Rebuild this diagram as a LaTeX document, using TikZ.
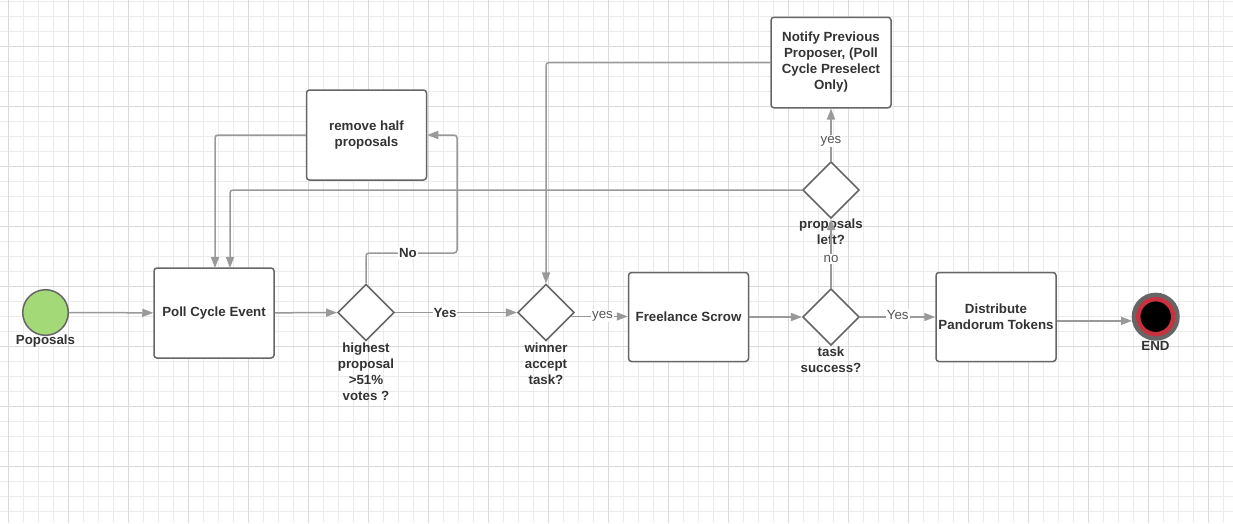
\documentclass[tikz,border=0pt]{standalone}
\usepackage{fontspec}
\setmainfont{Liberation Sans}
\usetikzlibrary{shapes.geometric,arrows.meta,calc}
\definecolor{gridminor}{HTML}{EBEBEB}
\definecolor{gridmajor}{HTML}{DADADA}
\definecolor{edge}{HTML}{666666}
\definecolor{conncol}{HTML}{999999}
\definecolor{txt}{HTML}{333333}
\definecolor{lbltxt}{HTML}{555555}
\definecolor{startgreen}{HTML}{A3D977}
\definecolor{endred}{HTML}{C7323F}
\newcommand\myfs{\fontsize{13.3}{16}\selectfont}
\begin{document}
\begin{tikzpicture}[x=1pt,y=-1pt,
  box/.style={draw=edge, line width=1.5pt, rounded corners=3pt, fill=white,
    minimum width=120pt, minimum height=90pt, inner sep=2pt, align=center,
    font=\myfs\bfseries, text=txt},
  dec/.style={diamond, draw=edge, line width=1.5pt, fill=white,
    minimum width=56.6pt, minimum height=56.6pt, inner sep=0pt},
  conn/.style={draw=conncol, line width=1.5pt, rounded corners=3pt,
    -{Triangle[length=11pt,width=8pt]}},
  lbl/.style={font=\myfs\bfseries, text=txt, align=center, inner sep=0pt},
  elbl/.style={fill=white, inner sep=1pt, font=\myfs, text=lbltxt},
  belbl/.style={fill=white, inner sep=1pt, font=\myfs\bfseries, text=txt}]
\useasboundingbox (0,0) rectangle (1233,523);
\fill[white] (0,0) rectangle (1233,523);
\foreach \x in {8,23,...,1232} \draw[gridminor, line width=1pt] (\x,0) -- (\x,523);
\foreach \y in {1,16,...,522} \draw[gridminor, line width=1pt] (0,\y) -- (1233,\y);
\foreach \x in {8,68,...,1232} \draw[gridmajor, line width=1pt] (\x,0) -- (\x,523);
\foreach \y in {46,106,...,522} \draw[gridmajor, line width=1pt] (0,\y) -- (1233,\y);

% nodes
\node[circle, minimum size=45.6pt, inner sep=0pt, fill=startgreen, draw=edge, line width=1.5pt] (start) at (45.5,312.5) {};
\node[lbl] (startlbl) at (45.5,341) {Poposals};
\node[box] (poll) at (214,313) {Poll Cycle Event};
\node[box] (rem) at (366.5,135) {remove half\\proposals};
\node[box, minimum height=90.5pt] (notify) at (831,62.5) {Notify Previous\\Proposer, (Poll\\Cycle Preselect\\Only)};
\node[box, minimum height=89pt] (free) at (688.5,317) {Freelance Scrow};
\node[box, minimum height=89pt] (dist) at (996,317) {Distribute\\Pandorum Tokens};

\node[dec] (d1) at (366,312.5) {};
\node[dec] (d2) at (546,312.5) {};
\node[dec] (d3) at (831,317) {};
\node[dec] (d4) at (831,190) {};

\node[lbl] (d1lbl) at (366,371.5) {highest\\proposal\\>51\%\\votes ?};
\node[lbl] (d2lbl) at (546,363.5) {winner\\accept\\task?};
\node[lbl] (d3lbl) at (831,360) {task\\success?};
\node[lbl] (d4lbl) at (831,232) {proposals\\left?};

\node[circle, minimum size=35pt, inner sep=0pt, fill=black, draw=endred, line width=4.4pt,
  preaction={draw=edge, line width=13pt}, outer sep=6.5pt] (endc) at (1155.7,316.7) {};
\node[lbl] (endlbl) at (1155.5,346) {END};

\coordinate (nocorner) at (457,253);
\coordinate (pin1) at (215,268);
\coordinate (pin2) at (230,268);

% connectors
\draw[conn] (start) -- (poll);
\draw[conn] (poll) -- (d1);
\draw[conn] (d1.north) |- (nocorner) |- (rem.east);
\node[belbl] (nolbl) at (408,253) {No};
\draw[conn] (d1) -- (d2);
\node[belbl] (yes1) at (445,312.5) {Yes};
\draw[conn] (rem.west) -| (pin1);
\draw[conn] (d4.west) -| (pin2);
\draw[conn] (notify.west) -| (d2.north);
\draw[conn] (d2.-9) -- (d2.-9 -| free.west);
\node[elbl] (yes2) at (602.5,316) {yes};
\draw[conn] (free) -- (d3);
\draw[conn] (d3) -- (dist);
\node[elbl] (yes3) at (897.7,315) {Yes};
\draw[conn] (endc.190 -| dist.east) -- (endc.190);
\draw[conn] (d3.north) -- (d4.south);
\node[elbl] (nolbl2) at (831,259) {no};
\draw[conn] (d4.north) -- (notify.south);
\node[elbl] (yes4) at (831,141) {yes};
\end{tikzpicture}
\end{document}
